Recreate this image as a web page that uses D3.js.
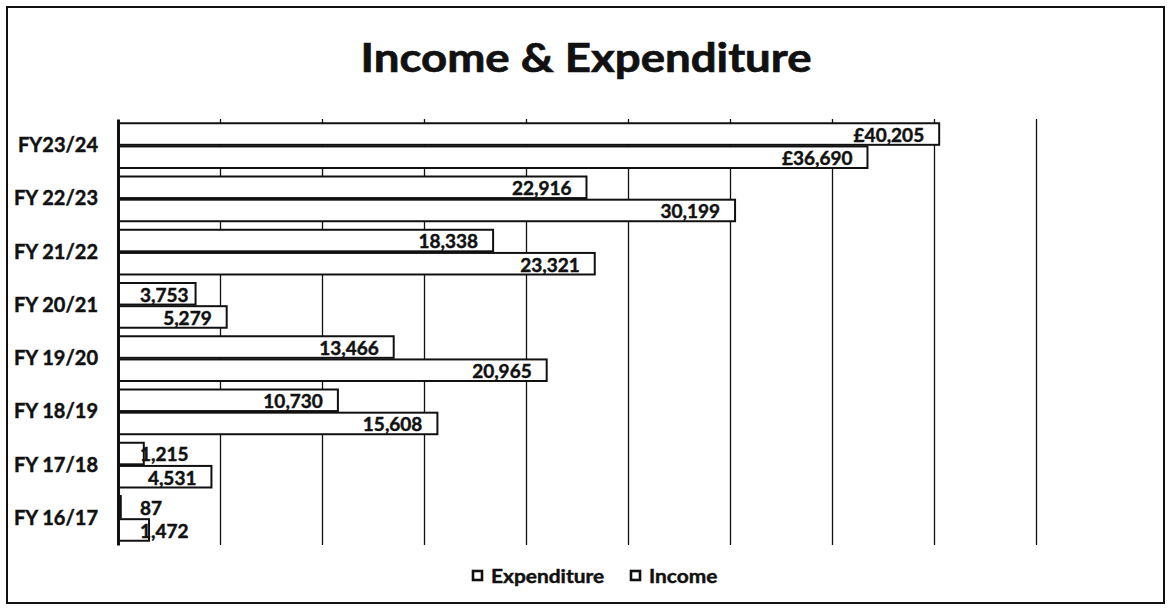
<!DOCTYPE html>
<html>
<head>
<meta charset="utf-8">
<script src="https://cdn.jsdelivr.net/npm/d3@7"></script>
<style>
  body { margin: 0; background: #fff; }
  svg { display: block; font-family: Lato, "Open Sans", sans-serif; font-weight: bold; }
  svg text { fill: #111; stroke: #111; stroke-width: 0.45px; }
</style>
</head>
<body>
<div id="chart"></div>
<script>
// data
const categories = ["FY23/24", "FY 22/23", "FY 21/22", "FY 20/21", "FY 19/20", "FY 18/19", "FY 17/18", "FY 16/17"]
const expenditure = [40205, 22916, 18338, 3753, 13466, 10730, 1215, 87]
const income = [36690, 30199, 23321, 5279, 20965, 15608, 4531, 1472]
const seriesNames = ["Expenditure", "Income"]
const valuePrefix = ["£", "", "", "", "", "", "", ""]
const gridValues = [5000, 10000, 15000, 20000, 25000, 30000, 35000, 40000, 45000]

const W = 1172, H = 608
const plot = { left: 118, right: 1036, top: 119, bottom: 545 }

const svg = d3.select("#chart").append("svg")
    .attr("width", W)
    .attr("height", H)

// chart frame
svg.append("rect")
    .attr("x", 7).attr("y", 7)
    .attr("width", W - 15).attr("height", H - 12)
    .attr("fill", "#fff")
    .attr("stroke", "#111")
    .attr("stroke-width", 2)

// title is a bit wider than the font, so stretch it a little
svg.append("text")
    .attr("transform", "translate(" + (W / 2) + ",72) scale(1.14,1)")
    .attr("text-anchor", "middle")
    .attr("font-size", 40)
    .style("stroke-width", "0.7px")
    .text("Income & Expenditure")

const x = d3.scaleLinear()
    .domain([0, 45000])
    .range([plot.left, plot.right])

const y = d3.scaleBand()
    .domain(categories)
    .range([plot.top, plot.bottom])
    .paddingInner(0.16)
    .paddingOuter(0.08)

const ySub = d3.scaleBand()
    .domain(seriesNames)
    .range([0, y.bandwidth()])
    .paddingInner(0.07)

// vertical gridlines
svg.append("g")
    .attr("transform", "translate(0," + plot.bottom + ")")
    .call(d3.axisBottom(x).tickValues(gridValues).tickSize(-(plot.bottom - plot.top)).tickFormat(""))
    .call(g => g.select(".domain").remove())
    .call(g => g.selectAll(".tick line").attr("stroke", "#111").attr("stroke-width", 1.3))

// rows: one record per bar
const rows = []
categories.forEach((c, i) => {
    rows.push({ cat: c, series: "Expenditure", value: expenditure[i], prefix: valuePrefix[i] })
    rows.push({ cat: c, series: "Income", value: income[i], prefix: valuePrefix[i] })
})

const bars = svg.append("g")
    .selectAll("g")
    .data(rows)
    .join("g")
    .attr("transform", d => "translate(0," + (y(d.cat) + ySub(d.series)) + ")")

bars.append("rect")
    .attr("x", x(0) + 1)
    .attr("y", 0)
    .attr("width", d => Math.max(1, x(d.value) - x(0)))
    .attr("height", ySub.bandwidth())
    .attr("fill", "#fff")
    .attr("stroke", "#111")
    .attr("stroke-width", 2)

// value labels: inside the bar end, or pushed right when the bar is too short
bars.append("text")
    .attr("font-size", 19)
    .attr("y", ySub.bandwidth() / 2 + 1)
    .attr("dy", "0.36em")
    .text(d => d.prefix + d3.format(",")(d.value))
    .each(function (d) {
        const w = this.getComputedTextLength()
        const end = x(d.value) - 14
        const minStart = x(0) + 22
        if (end - w < minStart) {
            d3.select(this).attr("x", minStart).attr("text-anchor", "start")
        } else {
            d3.select(this).attr("x", end).attr("text-anchor", "end")
        }
    })

// category axis
const yAxis = svg.append("g")
    .attr("transform", "translate(" + plot.left + ",0)")
    .call(d3.axisLeft(y).tickSize(0).tickPadding(20))
yAxis.select(".domain").attr("stroke", "#111").attr("stroke-width", 3)
yAxis.selectAll(".tick text")
    .attr("font-size", 20)
    .attr("font-family", "Lato, 'Open Sans', sans-serif")
    .attr("font-weight", "bold")

// legend
const legend = svg.append("g")
    .attr("transform", "translate(0,576)")
const legendX = [472, 630]
seriesNames.forEach((name, i) => {
    legend.append("rect")
        .attr("x", legendX[i] + 1)
        .attr("y", -5)
        .attr("width", 9)
        .attr("height", 9)
        .attr("fill", "#fff")
        .attr("stroke", "#111")
        .attr("stroke-width", 2.6)
    legend.append("text")
        .attr("transform", "translate(" + (legendX[i] + 19) + ",0) scale(1.1,1)")
        .attr("dy", "0.35em")
        .attr("font-size", 19)
        .text(name)
})
</script>
</body>
</html>
